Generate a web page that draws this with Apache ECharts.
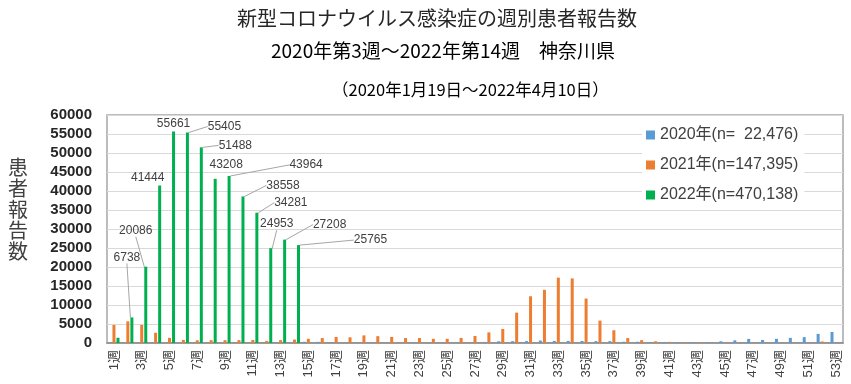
<!DOCTYPE html>
<html>
<head>
<meta charset="utf-8">
<script src="https://cdn.jsdelivr.net/npm/echarts@6/dist/echarts.min.js"></script>
<style>
html,body{margin:0;padding:0;background:#fff;}
#chart{width:851px;height:384px;}
</style>
</head>
<body>
<div id="chart"></div>
<script>
// ---- data ----
var weeks = [];
for (var w = 1; w <= 53; w++) weeks.push(w + '週');

var seriesNames = ['2020年(n=  22,476)', '2021年(n=147,395)', '2022年(n=470,138)'];

var data2020 = [null, null, 0, 1, 2, 3, 5, 10, 12, 20, 25, 40, 80, 150,
  320, 300, 180, 90, 40, 20, 15, 20, 30, 40, 50, 80, 150, 280,
  450, 480, 500, 650, 550, 550, 520, 500, 480, 330, 330,
  230, 250, 220, 250, 260, 450, 700, 1080, 800, 1100, 1350, 1550, 2400, 2900];

var data2021 = [4750, 5700, 4750, 2700, 1350, 800, 700, 750, 750, 750, 800, 550, 750, 900,
  1100, 1300, 1600, 1500, 2000, 1800, 1600, 1300, 1300, 1100, 1100, 1350, 1850, 2800,
  3700, 8000, 12300, 14000, 17200, 17000, 11700, 5900, 3350, 1300, 750,
  450, 300, 150, 100, 60, 50, 60, 80, 60, 80, 100, 150, 400, null];

var data2022 = [1379, 6738, 20086, 41444, 55661, 55405, 51488, 43208, 43964, 38558, 34281, 24953, 27208, 25765];

var yTicks = { min: 0, max: 60000, interval: 5000 };

// ---- styling helpers (label placement offsets, not data) ----
var labelOffsets = {
  1: [-5, -49, true], 2: [-10, -25, true], 3: [-12, 3, false], 4: [0, 3, false],
  5: [37, 5, true], 6: [34, 9, true], 7: [11, -3, false], 8: [77, 0, true],
  9: [40, 0, true], 10: [34, 1, true], 11: [6, -13, true], 12: [45, -4, true], 13: [72, 6, true]
};

var FONT = '"Liberation Sans", "Noto Sans CJK JP", sans-serif';
var JFONT = '"Noto Sans CJK JP", "Liberation Sans", sans-serif';

var greenData = data2022.map(function (v, i) {
  var o = labelOffsets[i];
  return {
    value: v,
    label: { show: !!o },
    labelLine: { show: !!(o && o[2]) }
  };
});

var chart = echarts.init(document.getElementById('chart'), null, { renderer: 'canvas' });
chart.setOption({
  animation: false,
  backgroundColor: '#fff',
  textStyle: { fontFamily: FONT },
  title: [
    { text: '新型コロナウイルス感染症の週別患者報告数', left: 232, top: 3,
      textStyle: { fontFamily: JFONT, fontSize: 20, fontWeight: 'normal', color: '#262626' } },
    { text: '2020年第3週～2022年第14週　神奈川県', left: 266, top: 36,
      textStyle: { fontFamily: JFONT, fontSize: 19, fontWeight: 'normal', color: '#000' } },
    { text: '（2020年1月19日～2022年4月10日）', left: 327, top: 76,
      textStyle: { fontFamily: JFONT, fontSize: 16.5, fontWeight: 'normal', color: '#000' } }
  ],
  graphic: [{
    type: 'text', left: 8, top: 157,
    style: { text: '患\n者\n報\n告\n数', font: '20px "Noto Sans CJK JP"', lineHeight: 21, fill: '#404040' }
  }],
  legend: {
    orient: 'vertical', left: 642, top: 123,
    data: seriesNames,
    icon: 'rect', itemWidth: 9, itemHeight: 9, itemGap: 14,
    backgroundColor: '#fff', padding: [4, 6, 4, 4],
    textStyle: { fontSize: 16, lineHeight: 16, color: '#404040', fontFamily: FONT }
  },
  grid: {
    left: 107, right: 8, top: 115, bottom: 41,
    show: true, borderColor: '#a6a6a6', borderWidth: 1.5, containLabel: false
  },
  xAxis: {
    type: 'category', data: weeks,
    axisLine: { lineStyle: { color: '#868686', width: 1.5 } },
    axisTick: { show: false },
    axisLabel: { interval: 1, rotate: 90, fontSize: 13, color: '#404040', margin: 7, fontFamily: FONT }
  },
  yAxis: {
    type: 'value', min: yTicks.min, max: yTicks.max, interval: yTicks.interval,
    axisLine: { show: false }, axisTick: { show: false },
    splitLine: { lineStyle: { color: '#d9d9d9', width: 1 } },
    axisLabel: { fontSize: 15, fontWeight: 'bold', color: '#262626', margin: 15, fontFamily: FONT,
      formatter: function (v) { return String(v); } }
  },
  series: [
    { name: seriesNames[0], type: 'bar', data: data2020, barWidth: 3, barGap: '35%',
      itemStyle: { color: '#5b9bd5' } },
    { name: seriesNames[1], type: 'bar', data: data2021, barWidth: 3, barGap: '35%',
      itemStyle: { color: '#ed7d31' } },
    { name: seriesNames[2], type: 'bar', data: greenData, barWidth: 3, barGap: '35%',
      itemStyle: { color: '#00b050' },
      label: { show: true, position: 'top', fontSize: 12, color: '#404040', fontFamily: FONT },
      labelLine: { show: true, lineStyle: { color: '#a6a6a6', width: 1 } },
      labelLayout: function (p) {
        var o = labelOffsets[p.dataIndex];
        return o ? { dx: o[0], dy: o[1] } : {};
      }
    }
  ]
});
</script>
</body>
</html>
